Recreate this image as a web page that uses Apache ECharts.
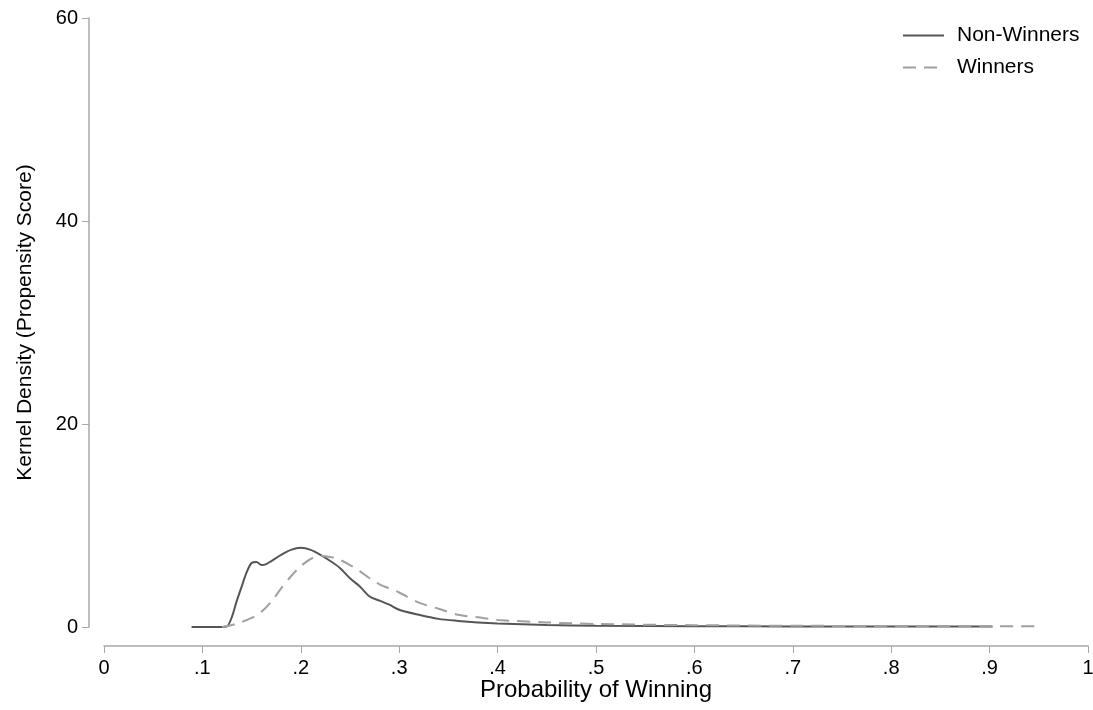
<!DOCTYPE html>
<html>
<head>
<meta charset="utf-8">
<script src="https://cdn.jsdelivr.net/npm/echarts@6/dist/echarts.min.js"></script>
<style>
  html, body { margin: 0; padding: 0; background: #fff; }
  #chart { width: 1093px; height: 710px; }
</style>
</head>
<body>
<div id="chart"></div>
<script>
// kernel density of propensity score
const nonWinX = [0.089, 0.10, 0.11, 0.12, 0.125, 0.13, 0.135, 0.14, 0.145, 0.15, 0.155, 0.16, 0.165, 0.17, 0.18, 0.19, 0.20, 0.21, 0.22, 0.23, 0.24, 0.25, 0.26, 0.27, 0.28, 0.29, 0.30, 0.32, 0.34, 0.36, 0.38, 0.40, 0.45, 0.50, 0.60, 0.70, 0.80, 0.903];
const nonWinY = [0, 0, 0, 0, 0.05, 1.0, 2.6, 4.0, 5.4, 6.3, 6.4, 6.1, 6.2, 6.5, 7.1, 7.6, 7.8, 7.6, 7.1, 6.5, 5.8, 4.8, 4.0, 3.0, 2.6, 2.2, 1.7, 1.2, 0.8, 0.6, 0.45, 0.35, 0.2, 0.12, 0.08, 0.06, 0.05, 0.05];

const winX = [0.12, 0.13, 0.14, 0.15, 0.16, 0.17, 0.18, 0.19, 0.20, 0.21, 0.22, 0.23, 0.24, 0.25, 0.26, 0.27, 0.28, 0.29, 0.30, 0.32, 0.34, 0.36, 0.38, 0.40, 0.45, 0.50, 0.60, 0.70, 0.80, 0.90, 0.95];
const winY = [0, 0.2, 0.5, 0.9, 1.5, 2.5, 3.8, 5.0, 6.0, 6.7, 7.0, 6.9, 6.6, 6.1, 5.5, 4.8, 4.2, 3.8, 3.4, 2.4, 1.8, 1.2, 0.95, 0.7, 0.45, 0.3, 0.18, 0.12, 0.1, 0.08, 0.07];

const seriesNames = ['Non-Winners', 'Winners'];

function pairs(xs, ys) {
    return xs.map((x, i) => [x, ys[i]]);
}

const font = 'Liberation Sans, Arial, Helvetica, sans-serif';
const axisGray = '#a8a8a8';

const chart = echarts.init(document.getElementById('chart'));
chart.setOption({
    animation: false,
    textStyle: { fontFamily: font, color: '#000' },
    grid: { left: 104, right: 5, top: 18, bottom: 83, outerBoundsMode: 'none', containLabel: false },
    legend: {
        orient: 'vertical',
        left: 897,
        top: 20,
        itemWidth: 41,
        itemHeight: 14,
        itemGap: 11,
        itemStyle: { opacity: 0 },
        textStyle: { fontSize: 21, color: '#000', fontFamily: font, padding: [0, 0, 0, 8] },
        data: seriesNames
    },
    xAxis: {
        type: 'value',
        min: 0, max: 1, interval: 0.1,
        offset: 19,
        name: 'Probability of Winning',
        nameLocation: 'middle',
        nameGap: 32,
        nameMoveOverlap: false,
        nameTextStyle: { fontSize: 24, color: '#000' },
        axisLine: { show: true, onZero: false, lineStyle: { color: axisGray, width: 1.5 } },
        axisTick: { show: true, length: 7, lineStyle: { color: axisGray } },
        axisLabel: {
            fontSize: 20, color: '#000', margin: 12,
            formatter: v => (v === 0 ? '0' : v === 1 ? '1' : '.' + Math.round(v * 10))
        },
        splitLine: { show: false }
    },
    yAxis: {
        type: 'value',
        min: 0, max: 60, interval: 20,
        offset: 15,
        name: 'Kernel Density (Propensity Score)',
        nameLocation: 'middle',
        nameGap: 53,
        nameMoveOverlap: false,
        nameTextStyle: { fontSize: 21, color: '#000' },
        axisLine: { show: true, onZero: false, lineStyle: { color: axisGray, width: 1.5 } },
        axisTick: { show: true, length: 7, lineStyle: { color: axisGray } },
        axisLabel: { fontSize: 20, color: '#000', margin: 11 },
        splitLine: { show: false }
    },
    series: [
        {
            name: seriesNames[0],
            type: 'line',
            smooth: 0.3,
            symbol: 'none',
            lineStyle: { color: '#555555', width: 2 },
            itemStyle: { color: '#555555' },
            data: pairs(nonWinX, nonWinY)
        },
        {
            name: seriesNames[1],
            type: 'line',
            smooth: 0.3,
            symbol: 'none',
            lineStyle: { color: '#a0a0a0', width: 2, type: [13, 8] },
            itemStyle: { color: '#a0a0a0' },
            data: pairs(winX, winY)
        }
    ]
});
</script>
</body>
</html>
